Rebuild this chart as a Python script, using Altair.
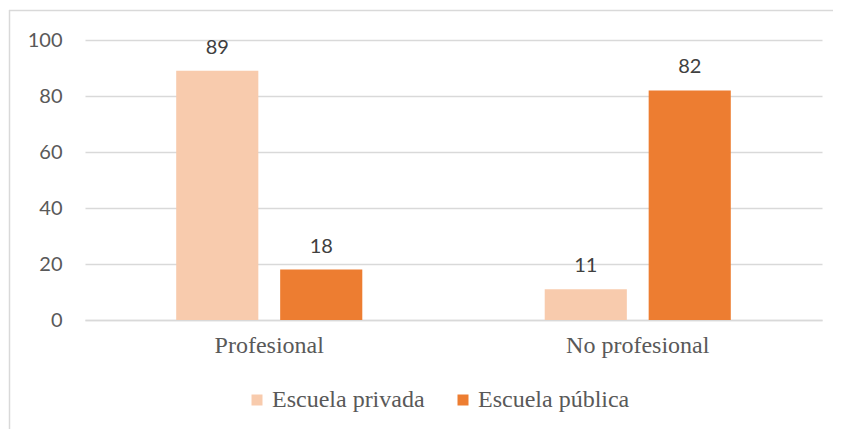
import altair as alt
import pandas as pd

categories = ["Profesional", "No profesional"]
series = ["Escuela privada", "Escuela pública"]
privada = [89, 11]
publica = [18, 82]
colors = ["#F8CBAD", "#ED7D31"]

rows = []
for i, c in enumerate(categories):
    rows.append({"cat": c, "serie": series[0], "valor": privada[i]})
    rows.append({"cat": c, "serie": series[1], "valor": publica[i]})
df = pd.DataFrame(rows)

SANS = "Lato"
SERIF = "Liberation Serif"

x_enc = alt.X("cat:N", sort=categories, title=None,
              scale=alt.Scale(paddingInner=0.495, paddingOuter=0.2475),
              axis=alt.Axis(labelAngle=0, labelFont=SERIF, labelFontSize=24,
                            labelColor="#595959", labelPadding=13, ticks=False,
                            domain=True, domainColor="#D9D9D9", domainWidth=1.3))
xo_enc = alt.XOffset("serie:N", sort=series,
                     scale=alt.Scale(paddingInner=0.21, paddingOuter=0))
y_enc = alt.Y("valor:Q", title=None,
              scale=alt.Scale(domain=[0, 100], nice=False),
              axis=alt.Axis(values=[0, 20, 40, 60, 80, 100], labelFont=SANS,
                            labelFontSize=20, labelColor="#595959", labelPadding=23,
                            domain=False, ticks=False, grid=True,
                            gridColor="#D9D9D9", gridWidth=1.3))

bars = alt.Chart(df).mark_bar().encode(
    x=x_enc, xOffset=xo_enc, y=y_enc,
    color=alt.Color("serie:N", sort=series,
                    scale=alt.Scale(domain=series, range=colors),
                    legend=alt.Legend(title=None, orient="none", legendX=160, legendY=348,
                                      direction="horizontal", symbolType="square",
                                      symbolSize=121, symbolStrokeWidth=0,
                                      labelFont=SERIF, labelFontSize=24,
                                      labelColor="#595959", labelOffset=3,
                                      columnPadding=26, padding=0, labelLimit=300))
)

labels = alt.Chart(df).mark_text(font=SANS, fontSize=20, color="#404040",
                                 baseline="alphabetic", dy=-17).encode(
    x=alt.X("cat:N", sort=categories),
    xOffset=alt.XOffset("serie:N", sort=series),
    y=alt.Y("valor:Q"),
    text=alt.Text("valor:Q"),
)

frame = alt.Data(values=[{"k": 1}])
top_line = alt.Chart(frame).mark_rule(color="#D9D9D9", strokeWidth=1.5).encode(
    x=alt.value(-76), x2=alt.value(790), y=alt.value(-29.5))
left_line = alt.Chart(frame).mark_rule(color="#D9D9D9", strokeWidth=1.5).encode(
    x=alt.value(-75.5), y=alt.value(-30), y2=alt.value(400))

chart = alt.layer(bars, labels, top_line, left_line).properties(
    width=737, height=280,
    autosize=alt.AutoSizeParams(type="none"),
    padding={"left": 77, "top": 32, "right": 11, "bottom": 109},
    background="white",
).configure_view(stroke=None)

chart.save("out.html", embed_options={"renderer": "svg", "actions": False})
